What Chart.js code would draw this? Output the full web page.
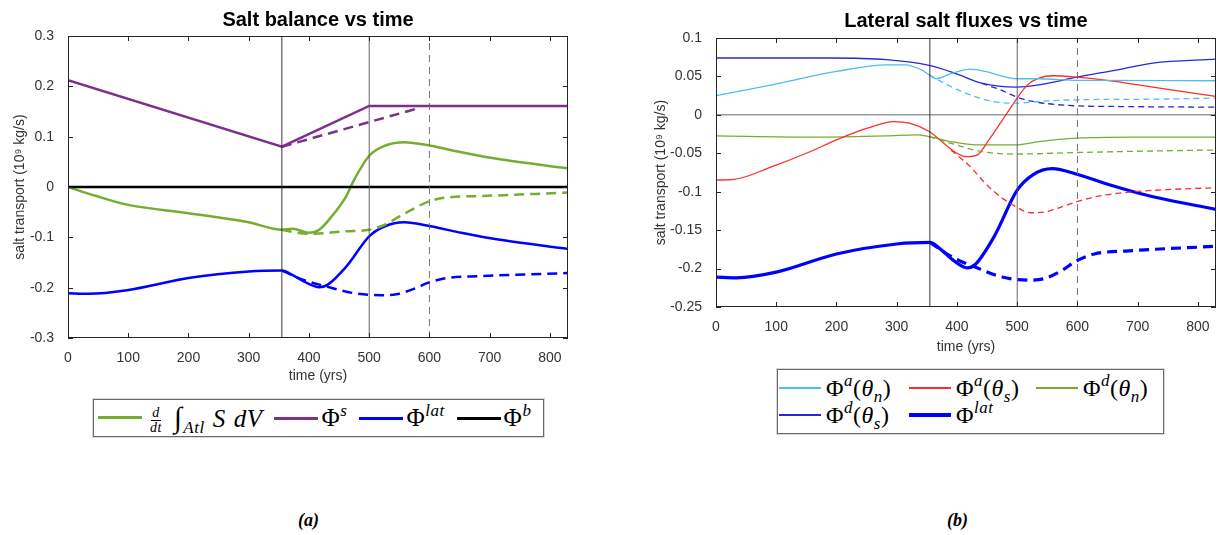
<!DOCTYPE html>
<html lang="en">
<head>
<meta charset="UTF-8">
<title>Salt balance and lateral salt fluxes</title>
<script src="https://cdn.jsdelivr.net/npm/chart.js"></script>
<style>
  body { margin: 0; background: #fff; width: 1217px; height: 535px; position: relative; overflow: hidden;
         font-family: "Liberation Sans", Arial, sans-serif; }
  canvas { position: absolute; top: 0; }
  #left { left: 0; }
  #right { left: 640px; }
  .legend { position: absolute; border: 1px solid #6a6a6a; box-shadow: 0 0 0 1px #d8d8d8; background: #fff;
            font-family: "Liberation Serif", "DejaVu Serif", serif; font-size: 23px; color: #000; }
  #legA { left: 93px; top: 399px; width: 451px; height: 38px; display: flex; align-items: center; padding-left: 4px; box-sizing: border-box;
          font-size: 25px; letter-spacing: 0.5px; }
  #legB { left: 777px; top: 369px; width: 387px; height: 65px; display: grid; grid-template-columns: 130px 127px auto;
          align-content: center; row-gap: 0px; padding-left: 1px; box-sizing: border-box; font-size: 24px; letter-spacing: 0.5px; }
  .item { display: flex; align-items: center; white-space: nowrap; }
  #legA .item { margin-right: 12px; }
  .sw { display: inline-block; width: 44px; margin-right: 3px; }
  #legB .sw { width: 42px; margin-right: 5px; }
  sup, sub { font-size: 17px; font-style: italic; line-height: 0; }
  sup { vertical-align: 10px; }
  sub { vertical-align: -6px; }
  .frac { display: inline-flex; flex-direction: column; align-items: center; vertical-align: middle;
          font-size: 14px; font-style: italic; line-height: 14px; margin: 0 12px 0 5px; }
  .frac span:first-child { border-bottom: 0.8px solid #000; padding: 0 1px; }
  .int { font-size: 29px; margin: 0 1px 0 0; }
  .sp { display: inline-block; width: 8px; }
  .cap { position: absolute; top: 510px; font-family: "Liberation Serif", serif; font-weight: bold; font-style: italic; font-size: 18px; }
</style>
</head>
<body>
<canvas id="left" width="574" height="385"></canvas>
<canvas id="right" width="577" height="356"></canvas>
<div class="legend" id="legA"></div>
<div class="legend" id="legB"></div>
<div class="cap" style="left:298px">(a)</div>
<div class="cap" style="left:947px">(b)</div>
<script>
// ---- data (time in yrs, transport in 10^9 kg/s) ----
const markerTimes = [355, 500, 600];

// (a) salt balance
const tStorage = [0, 47, 98, 200, 300, 355, 373, 400, 417, 436, 462, 474, 500, 526, 558, 602, 653, 717, 830];
const vStorage = [0, -0.018, -0.035, -0.052, -0.07, -0.085, -0.083, -0.091, -0.085, -0.061, -0.018, 0.012, 0.062, 0.082, 0.089, 0.082, 0.069, 0.055, 0.037];
const tStorageD = [355, 398, 462, 500, 526, 551, 577, 596, 628, 685, 749, 830];
const vStorageD = [-0.085, -0.093, -0.088, -0.085, -0.075, -0.058, -0.041, -0.03, -0.021, -0.018, -0.015, -0.011];

const tSurf = [0, 355, 500, 830];
const vSurf = [0.212, 0.08, 0.161, 0.161];
const tSurfD = [355, 583];
const vSurfD = [0.08, 0.157];

const tLat = [0, 34, 98, 200, 300, 355, 373, 392, 417, 430, 462, 500, 526, 558, 602, 653, 717, 830];
const vLat = [-0.211, -0.212, -0.205, -0.181, -0.168, -0.166, -0.175, -0.188, -0.199, -0.195, -0.158, -0.098, -0.078, -0.07, -0.078, -0.091, -0.105, -0.123];
const tLatD = [355, 392, 430, 475, 519, 545, 577, 596, 628, 685, 830];
const vLatD = [-0.166, -0.185, -0.198, -0.211, -0.215, -0.213, -0.201, -0.191, -0.181, -0.177, -0.171];

const tBottom = [0, 200, 400, 600, 830];
const vBottom = [0, 0, 0, 0, 0];

// (b) lateral fluxes
const tAzN = [0, 93, 200, 283, 314, 340, 354, 365, 390, 422, 447, 472, 498, 536, 599, 830];
const vAzN = [0.025, 0.039, 0.0565, 0.065, 0.065, 0.059, 0.052, 0.047, 0.0535, 0.0596, 0.0565, 0.051, 0.047, 0.047, 0.0448, 0.0444];
const tAzND = [354, 384, 422, 460, 498, 536, 599, 725, 830];
const vAzND = [0.052, 0.039, 0.026, 0.0174, 0.0152, 0.0174, 0.0196, 0.0204, 0.0218];

const tAzS = [0, 30, 93, 156, 200, 251, 295, 321, 354, 378, 396, 415, 434, 453, 472, 498, 517, 536, 561, 599, 662, 725, 830];
const vAzS = [-0.0848, -0.084, -0.0674, -0.048, -0.0326, -0.0174, -0.0087, -0.0109, -0.0217, -0.037, -0.048, -0.0544, -0.052, -0.0326, -0.0109, 0.0196, 0.039, 0.0478, 0.0509, 0.049, 0.0435, 0.036, 0.024];
const tAzSD = [390, 422, 447, 472, 498, 523, 548, 574, 599, 630, 694, 757, 830];
const vAzSD = [-0.0457, -0.0674, -0.0891, -0.1065, -0.1196, -0.1274, -0.126, -0.1196, -0.113, -0.1065, -0.1, -0.097, -0.0948];

const tGyN = [0, 156, 283, 333, 354, 390, 434, 498, 536, 599, 694, 830];
const vGyN = [-0.0274, -0.029, -0.0274, -0.026, -0.0283, -0.0348, -0.039, -0.039, -0.0348, -0.0304, -0.029, -0.029];
const tGyND = [354, 390, 441, 498, 599, 725, 830];
const vGyND = [-0.0283, -0.037, -0.0478, -0.051, -0.049, -0.047, -0.0457];

const tGyS = [0, 188, 283, 354, 396, 441, 498, 536, 599, 662, 725, 830];
const vGyS = [0.074, 0.074, 0.0718, 0.0644, 0.0544, 0.0413, 0.0361, 0.039, 0.049, 0.058, 0.0674, 0.0726];
const tGySD = [441, 472, 504, 536, 599, 662, 830];
const vGySD = [0.041, 0.0326, 0.0218, 0.0161, 0.0117, 0.0109, 0.01];

const legendA = [
  ['#77AC30', 3, '<span class="frac"><span>d</span><span>dt</span></span><span class="int">&int;</span><sub>Atl</sub><span class="sp"></span><i>S</i><span class="sp"></span><i>dV</i>'],
  ['#7E2F8E', 3, '&Phi;<sup>s</sup>'],
  ['#0000FF', 3, '&Phi;<sup>lat</sup>'],
  ['#000000', 3, '&Phi;<sup>b</sup>']
];
const legendB = [
  ['#4DBEEE', 2, '&Phi;<sup>a</sup>(<i>&theta;</i><sub>n</sub>)'],
  ['#FF2A2A', 2, '&Phi;<sup>a</sup>(<i>&theta;</i><sub>s</sub>)'],
  ['#77AC30', 2, '&Phi;<sup>d</sup>(<i>&theta;</i><sub>n</sub>)'],
  ['#2828D8', 2, '&Phi;<sup>d</sup>(<i>&theta;</i><sub>s</sub>)'],
  ['#0000FF', 4, '&Phi;<sup>lat</sup>']
];

function pts(t, v) { return t.map((x, i) => ({x: x, y: v[i]})); }

function series(t, v, color, width, dashed, straight) {
  return {
    data: pts(t, v), borderColor: color, borderWidth: width,
    borderDash: dashed ? (width > 2 ? [10, 6] : [6, 4]) : [],
    pointRadius: 0, fill: false,
    cubicInterpolationMode: straight ? 'default' : 'monotone', tension: 0
  };
}

function vline(x, lo, hi, color, dash) {
  return { data: [{x: x, y: lo}, {x: x, y: hi}], borderColor: color, borderWidth: 0.9,
           borderDash: dash ? [7, 5] : [], pointRadius: 0, fill: false, tension: 0 };
}

const frameTicks = {
  id: 'frameTicks',
  afterDatasetsDraw(chart) {
    const {ctx, chartArea: a, scales: {x, y}} = chart;
    ctx.save();
    ctx.strokeStyle = '#262626';
    ctx.lineWidth = 1;
    ctx.strokeRect(a.left + 0.5, a.top + 0.5, a.right - a.left - 1, a.bottom - a.top - 1);
    ctx.beginPath();
    x.ticks.forEach(t => {
      const p = Math.round(x.getPixelForValue(t.value)) + 0.5;
      ctx.moveTo(p, a.bottom); ctx.lineTo(p, a.bottom - 5);
      ctx.moveTo(p, a.top); ctx.lineTo(p, a.top + 5);
    });
    y.ticks.forEach(t => {
      const p = Math.round(y.getPixelForValue(t.value)) + 0.5;
      ctx.moveTo(a.left, p); ctx.lineTo(a.left + 5, p);
      ctx.moveTo(a.right, p); ctx.lineTo(a.right - 5, p);
    });
    ctx.stroke();
    ctx.restore();
  }
};

function makeChart(id, title, datasets, ymin, ymax, ystep, yWidth, titlePad, yTitlePad, xHeight, tickPad, padRight) {
  return new Chart(document.getElementById(id), {
    type: 'line',
    data: { datasets: datasets },
    plugins: [frameTicks],
    options: {
      responsive: false, animation: false, devicePixelRatio: 1,
      layout: { padding: { left: 0, right: padRight, top: 0, bottom: 0 } },
      plugins: {
        legend: { display: false }, tooltip: { enabled: false },
        title: { display: true, text: title, fullSize: false, color: '#000',
                 font: { family: 'Liberation Sans', size: 20, weight: 'bold' }, padding: titlePad }
      },
      scales: {
        x: {
          type: 'linear', min: 0, max: 830,
          grid: { display: false }, border: { display: false },
          ticks: { stepSize: 100, includeBounds: false, padding: tickPad, color: '#333',
                   font: { family: 'Liberation Sans', size: 14 } },
          title: { display: true, text: 'time (yrs)', color: '#333', padding: 0,
                   font: { family: 'Liberation Sans', size: 14 } },
          afterFit(s) { s.height = xHeight; }
        },
        y: {
          min: ymin, max: ymax,
          grid: { display: false }, border: { display: false },
          ticks: { stepSize: ystep, padding: 6, color: '#333', font: { family: 'Liberation Sans', size: 14 },
                   callback: v => String(+v.toFixed(2)) },
          title: { display: true, text: 'salt transport (10\u2079 kg/s)', color: '#333', padding: { top: yTitlePad, bottom: 0 },
                   font: { family: 'Liberation Sans', size: 14 } },
          afterFit(s) { s.width = yWidth; }
        }
      }
    }
  });
}

const dsA = [
  vline(markerTimes[0], -0.3, 0.3, '#222', false),
  vline(markerTimes[1], -0.3, 0.3, '#555', false),
  vline(markerTimes[2], -0.3, 0.3, '#666', true),
  series(tStorageD, vStorageD, '#77AC30', 2.5, true),
  series(tSurfD, vSurfD, '#7E2F8E', 2.5, true, true),
  series(tLatD, vLatD, '#0000FF', 2.5, true),
  series(tBottom, vBottom, '#000000', 2.5, false, true),
  series(tStorage, vStorage, '#77AC30', 2.5, false),
  series(tSurf, vSurf, '#7E2F8E', 2.5, false, true),
  series(tLat, vLat, '#0000FF', 2.5, false)
];

const dsB = [
  vline(markerTimes[0], -0.25, 0.1, '#222', false),
  vline(markerTimes[1], -0.25, 0.1, '#555', false),
  vline(markerTimes[2], -0.25, 0.1, '#666', true),
  { data: [{x: 0, y: 0}, {x: 830, y: 0}], borderColor: '#555', borderWidth: 0.9, pointRadius: 0, fill: false },
  series(tAzND, vAzND, '#4DBEEE', 1.3, true),
  series(tAzSD, vAzSD, '#FF2A2A', 1.3, true),
  series(tGyND, vGyND, '#77AC30', 1.3, true),
  series(tGySD, vGySD, '#2828D8', 1.3, true),
  series(tLatD, vLatD, '#0000FF', 3.2, true),
  series(tAzN, vAzN, '#4DBEEE', 1.3, false),
  series(tAzS, vAzS, '#FF2A2A', 1.3, false),
  series(tGyN, vGyN, '#77AC30', 1.3, false),
  series(tGyS, vGyS, '#2828D8', 1.3, false),
  series(tLat, vLat, '#0000FF', 3.2, false)
];

makeChart('left', 'Salt balance vs time', dsA, -0.3, 0.3, 0.1, 68, {top: 8, bottom: 4}, 12, 47, 4, 6);
makeChart('right', 'Lateral salt fluxes vs time', dsB, -0.25, 0.1, 0.05, 76, {top: 9, bottom: 5}, 13, 49, 4, 1);

function fillLegend(id, items) {
  const box = document.getElementById(id);
  items.forEach(it => {
    const d = document.createElement('div');
    d.className = 'item';
    d.innerHTML = '<span class="sw" style="border-top:' + it[1] + 'px solid ' + it[0] + '"></span><span>' + it[2] + '</span>';
    box.appendChild(d);
  });
}
fillLegend('legA', legendA);
fillLegend('legB', legendB);
</script>
</body>
</html>
